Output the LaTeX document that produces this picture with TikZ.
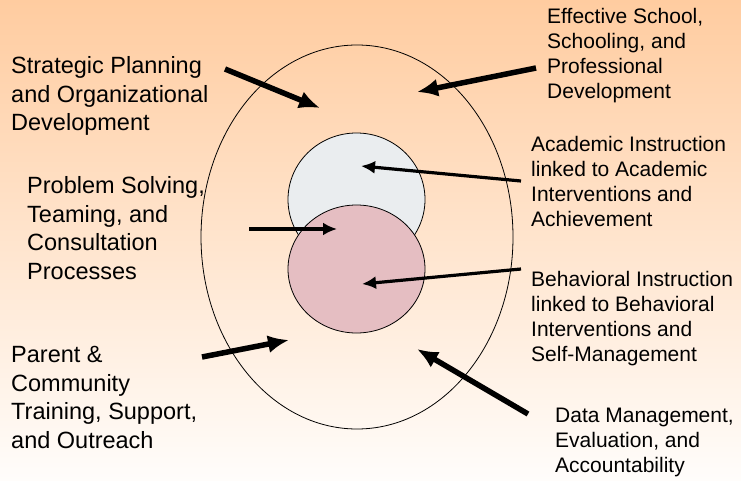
\documentclass[tikz,border=0pt]{standalone}
\usepackage{fontspec}
\setmainfont{Liberation Sans}
\usetikzlibrary{arrows.meta}

\definecolor{peach}{RGB}{255,204,160}
\definecolor{cream}{RGB}{255,253,251}
\definecolor{marble}{RGB}{234,237,239}
\definecolor{rose}{RGB}{229,190,194}

\tikzset{
    lefttext/.style={anchor=north west,inner sep=0pt,align=left,font=\fontsize{23.5}{28.5}\selectfont},
    righttext/.style={anchor=north west,inner sep=0pt,align=left,font=\fontsize{21}{25}\selectfont},
    bigarrow/.style={-{Latex[length=21pt,width=18pt]},line width=5.5pt},
    smallarrow/.style={-{Latex[length=14pt,width=13pt]},line width=3.2pt}
}

\begin{document}
\begin{tikzpicture}[x=1pt,y=-1pt,line join=round]
    \shade[top color=peach,bottom color=cream] (0,0) rectangle (741,481);
    \useasboundingbox (0,0) rectangle (741,481);
    \draw[line width=0.8pt] (357,237) ellipse [x radius=156, y radius=192];
    \draw[fill=marble,line width=0.8pt] (356.5,199.5) ellipse [x radius=68.5, y radius=66.5];
    \draw[fill=rose,line width=0.8pt] (356.5,269) ellipse [x radius=68.5, y radius=64];
    \node[lefttext] (strat) at (11,56.5) {Strategic Planning\\and Organizational\\Development};
    \node[righttext] (eff) at (547,8) {Effective School,\\Schooling, and\\Professional\\Development};
    \node[lefttext] (prob) at (27,176.5) {Problem Solving,\\Teaming, and\\Consultation\\Processes};
    \node[righttext] (acad) at (531,136.5) {Academic Instruction\\linked to Academic\\Interventions and\\Achievement};
    \node[righttext] (behav) at (531,271.5) {Behavioral Instruction\\linked to Behavioral\\Interventions and\\Self-Management};
    \node[lefttext] (parent) at (11,346.5) {Parent \&\\Community\\Training, Support,\\and Outreach};
    \node[righttext] (data) at (555,408) {Data Management,\\Evaluation, and\\Accountability};
    \coordinate (strat-s) at (225,69);
    \coordinate (strat-t) at (320,108);
    \coordinate (eff-s) at (536,68);
    \coordinate (eff-t) at (417,92);
    \coordinate (acad-s) at (521,181);
    \coordinate (acad-t) at (361,166);
    \coordinate (prob-s) at (249,229);
    \coordinate (prob-t) at (337,229);
    \coordinate (behav-s) at (521,269);
    \coordinate (behav-t) at (362,284);
    \coordinate (parent-s) at (202,357);
    \coordinate (parent-t) at (289,340);
    \coordinate (data-s) at (528,414);
    \coordinate (data-t) at (417,349);
    \draw[bigarrow] (strat-s) -- (strat-t);
    \draw[bigarrow] (eff-s) -- (eff-t);
    \draw[smallarrow] (acad-s) -- (acad-t);
    \draw[smallarrow] (prob-s) -- (prob-t);
    \draw[smallarrow] (behav-s) -- (behav-t);
    \draw[bigarrow] (parent-s) -- (parent-t);
    \draw[bigarrow] (data-s) -- (data-t);
\end{tikzpicture}
\end{document}
